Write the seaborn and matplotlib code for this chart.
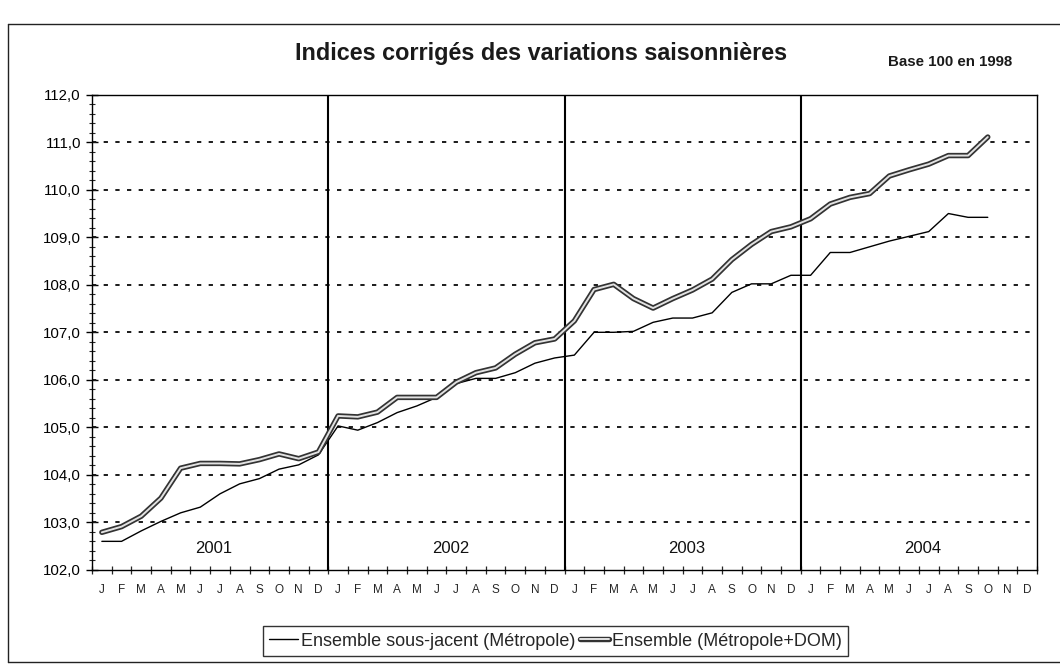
import numpy as np
import pandas as pd
import matplotlib
matplotlib.use("Agg")
import matplotlib.pyplot as plt
import matplotlib.patheffects as pe
from matplotlib.lines import Line2D
from matplotlib.ticker import MultipleLocator, FixedLocator, NullFormatter
import seaborn as sns

# Monthly seasonally adjusted indices, Jan 2001 - Oct 2004 (base 100 in 1998)
years = ["2001", "2002", "2003", "2004"]
month_letters = ["J", "F", "M", "A", "M", "J", "J", "A", "S", "O", "N", "D"]

sous_jacent = [
    102.60, 102.60, 102.82, 103.02, 103.20, 103.32, 103.60, 103.81, 103.92, 104.12, 104.21, 104.42,
    105.03, 104.94, 105.10, 105.31, 105.45, 105.63, 105.92, 106.03, 106.03, 106.15, 106.35, 106.46,
    106.52, 107.00, 107.00, 107.02, 107.21, 107.30, 107.30, 107.41, 107.84, 108.02, 108.02, 108.20,
    108.20, 108.68, 108.68, 108.80, 108.92, 109.02, 109.12, 109.50, 109.42, 109.42,
]
ensemble = [
    102.79, 102.91, 103.13, 103.51, 104.14, 104.24, 104.24, 104.23, 104.32, 104.44, 104.34, 104.48,
    105.24, 105.22, 105.32, 105.63, 105.63, 105.63, 105.95, 106.15, 106.25, 106.54, 106.78, 106.86,
    107.24, 107.90, 108.01, 107.71, 107.51, 107.71, 107.89, 108.12, 108.53, 108.85, 109.12, 109.22,
    109.39, 109.70, 109.84, 109.92, 110.29, 110.42, 110.54, 110.72, 110.72, 111.11,
]

label_sj = "Ensemble sous-jacent (Métropole)"
label_ens = "Ensemble (Métropole+DOM)"

n_months = 12 * len(years)
t_sj = np.arange(len(sous_jacent))
t_ens = np.arange(len(ensemble))

sns.set_theme(style="white")
plt.rcParams["font.family"] = ["Liberation Sans", "DejaVu Sans"]

fig = plt.figure(figsize=(10.6, 6.72), dpi=100)
ax = fig.add_axes([0.0868, 0.152, 0.8915, 0.707])

# dotted horizontal reference lines
for v in range(103, 112):
    ax.axhline(v, color="#1a1a1a", lw=1.4, ls=(0, (2.2, 3.8)), zorder=1)

# year separators
for k in range(1, len(years)):
    ax.axvline(12 * k - 0.5, color="black", lw=1.5, zorder=2)

# thin line: underlying index
sns.lineplot(x=t_sj, y=sous_jacent, ax=ax, color="black", lw=1.0, zorder=3)

# double line: overall index
sns.lineplot(x=t_ens, y=ensemble, ax=ax, color="#e2e2e2", lw=1.4, zorder=4)
double_fx = [pe.Stroke(linewidth=3.9, foreground="#333333"), pe.Normal()]
ax.lines[-1].set_path_effects(double_fx)

ax.set_xlim(-0.5, n_months - 0.5)
ax.set_ylim(102, 112)

# y axis: labels with decimal comma, minor ticks every 0.2
ax.yaxis.set_major_locator(MultipleLocator(1))
ax.yaxis.set_minor_locator(MultipleLocator(0.2))
ax.set_yticklabels([f"{v:.1f}".replace(".", ",") for v in ax.get_yticks()])
ax.tick_params(axis="y", which="major", direction="inout", length=8, width=1,
               labelsize=10.8, pad=4, left=True, colors="black")
ax.tick_params(axis="y", which="minor", direction="inout", length=5, width=0.8, left=True)

# x axis: ticks between months, month letters centred on months
ax.xaxis.set_major_locator(FixedLocator(np.arange(n_months + 1) - 0.5))
ax.xaxis.set_major_formatter(NullFormatter())
ax.xaxis.set_minor_locator(FixedLocator(np.arange(n_months)))
ax.set_xticklabels(month_letters * len(years), minor=True)
ax.tick_params(axis="x", which="major", direction="inout", length=6, width=0.9, bottom=True)
ax.tick_params(axis="x", which="minor", length=0, labelsize=8.5, pad=10)

for s in ax.spines.values():
    s.set_color("black")
    s.set_linewidth(1.0)

# year captions inside the plot
for k, yr in enumerate(years):
    ax.text(12 * k + 5.7, 102.45, yr, ha="center", va="center", fontsize=12, color="#111111")

ax.set_xlabel("")
ax.set_ylabel("")

fig.text(0.51, 0.921, "Indices corrigés des variations saisonnières", ha="center", va="center",
         fontsize=16.8, fontweight="bold", color="#1a1a1a")
fig.text(0.955, 0.907, "Base 100 en 1998", ha="right", va="center",
         fontsize=10.8, fontweight="bold", color="#1a1a1a")

handles = [
    Line2D([], [], color="black", lw=1.0),
    Line2D([], [], color="#e2e2e2", lw=1.4, path_effects=double_fx),
]
leg = fig.legend(handles, [label_sj, label_ens], loc="center", bbox_to_anchor=(0.524, 0.046),
                 ncol=2, frameon=True, fontsize=13, handlelength=1.6, handletextpad=0.15,
                 columnspacing=0.3, borderpad=0.35, fancybox=False)
leg.get_frame().set_edgecolor("black")
leg.get_frame().set_linewidth(1.0)

# page frame around the chart
frame_kw = dict(transform=fig.transFigure, color="#222222", lw=1.0)
fig.add_artist(Line2D([0.0075, 1.0], [0.964, 0.964], **frame_kw))
fig.add_artist(Line2D([0.0075, 0.0075], [0.015, 0.964], **frame_kw))
fig.add_artist(Line2D([0.0075, 1.0], [0.015, 0.015], **frame_kw))

fig.savefig("out.png", dpi=100)
